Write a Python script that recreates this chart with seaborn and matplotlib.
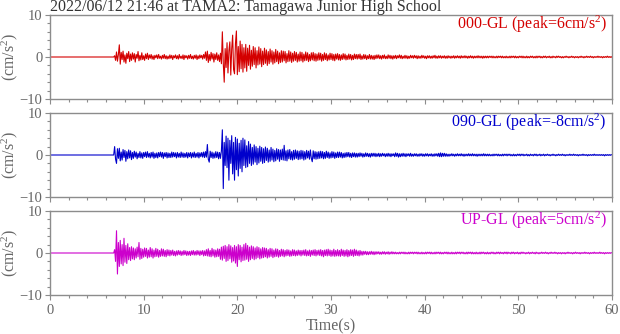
import numpy as np
import pandas as pd
import matplotlib
matplotlib.use("Agg")
import matplotlib.pyplot as plt
import seaborn as sns
from matplotlib.ticker import MultipleLocator

# ---------------- data ----------------
title = "2022/06/12 21:46 at TAMA2: Tamagawa Junior High School"
components = ["000-GL", "090-GL", "UP-GL"]
peaks = ["6", "-8", "5"]
onset = 6.8          # s, first sample of the recorded motion
dt = 0.1             # s, spacing of the values

acc_000 = [
    0.0, 0.3, -0.8, 1.2, -1.0, 0.6, 2.9, -1.7, 1.1, -0.6, 1.4, -1.2, 0.5, -1.5, 0.9, -0.4, 1.3, -1.1, 0.7, -0.8,
    1.0, -0.5, 0.8, -1.2, 0.6, -0.3, 1.3, -0.9, 0.4, -0.7, 1.0, -0.6, 0.3, -0.8, 0.7, -0.4, 0.9, -0.6, 0.5, -0.3,
    0.6, -0.5, 0.3, -0.6, 0.4, -0.2, 0.5, -0.4, 0.6, -0.3, 0.2, -0.5, 0.4, -0.3, 0.6, -0.4, 0.3, -0.5, 0.2, -0.4,
    0.5, -0.3, 0.4, -0.6, 0.3, -0.2, 0.5, -0.4, 0.3, -0.5, 0.6, -0.3, 0.2, -0.4, 0.5, -0.6, 0.4, -0.2, 0.3, -0.5,
    0.4, -0.3, 0.6, -0.4, 0.2, -0.5, 0.4, -0.3, 0.5, -0.6, 0.3, -0.4, 0.5, -0.2, 0.4, -0.5, 0.6, -0.3, 1.2, -0.8,
    1.4, -1.3, 0.6, -0.9, 1.1, -0.5, 0.8, -1.2, 0.7, -0.6, 1.0, -0.8, 0.5, -1.1, 0.9, -1.6, 6.0, -1.5, -6.0, 2.0,
    -2.5, 3.4, -3.8, 1.5, 3.6, -4.3, 2.0, 5.2, -3.0, -4.0, 3.2, 6.2, -4.2, 2.5, -3.5, 3.8, -2.8, 3.0, -3.6, 2.2,
    -2.6, 3.0, -3.4, 2.1, -2.0, 2.8, -2.9, 1.6, -2.2, 2.5, -1.8, 2.2, -2.6, 1.5, -1.9, 2.4, -1.7, 2.0, -2.3, 1.4,
    -1.8, 2.1, -1.5, 1.7, -2.0, 1.3, -1.6, 1.9, -1.2, 1.5, -1.7, 1.2, -1.4, 1.8, -1.1, 1.4, -1.6, 1.0, -1.3, 1.5,
    -1.2, 1.4, -0.9, 1.3, -1.4, 0.8, -1.1, 1.5, -1.0, 1.2, -1.3, 0.9, -1.0, 1.3, -0.8, 1.1, -1.2, 0.7, -1.0, 1.2,
    -0.9, 1.1, -1.2, 0.7, -0.9, 1.2, -0.8, 1.0, -1.1, 0.6, -0.9, 1.0, -0.7, 1.1, -0.9, 0.8, -1.0, 0.7, -0.8, 1.0,
    -0.7, 0.9, -1.0, 0.6, -0.8, 1.0, -0.6, 0.8, -0.9, 0.5, -0.7, 0.9, -0.6, 0.8, -0.8, 0.6, -0.9, 0.7, -0.5, 0.8,
    -0.7, 0.6, -0.8, 0.5, -0.6, 0.8, -0.5, 0.7, -0.7, 0.4, -0.6, 0.7, -0.5, 0.6, -0.7, 0.4, -0.6, 0.7, -0.4, 0.6,
    -0.5, 0.6, -0.4, 0.7, -0.6, 0.3, -0.5, 0.6, -0.4, 0.5, -0.6, 0.3, -0.4, 0.6, -0.5, 0.4, -0.5, 0.3, -0.6, 0.4,
    -0.4, 0.5, -0.3, 0.5, -0.4, 0.3, -0.5, 0.4, -0.3, 0.5, -0.4, 0.2, -0.4, 0.5, -0.3, 0.4, -0.4, 0.3, -0.5, 0.3,
    -0.3, 0.4, -0.4, 0.3, -0.2, 0.5, -0.3, 0.4, -0.4, 0.2, -0.3, 0.4, -0.3, 0.3, -0.4, 0.2, -0.3, 0.4, -0.2, 0.3,
    -0.3, 0.4, -0.2, 0.3, -0.4, 0.3, -0.3, 0.2, -0.3, 0.4, -0.2, 0.3, -0.3, 0.2, -0.4, 0.3, -0.2, 0.3, -0.3, 0.2,
    -0.3, 0.3, -0.2, 0.4, -0.3, 0.2, -0.3, 0.3, -0.2, 0.3, -0.3, 0.2, -0.2, 0.3, -0.3, 0.2, -0.3, 0.3, -0.2, 0.2,
    -0.3, 0.2, -0.2, 0.3, -0.3, 0.2, -0.2, 0.3, -0.2, 0.2, -0.3, 0.3, -0.2, 0.2, -0.2, 0.3, -0.2, 0.2, -0.3, 0.2,
    -0.2, 0.3, -0.2, 0.2, -0.3, 0.2, -0.2, 0.2, -0.2, 0.3, -0.2, 0.2, -0.2, 0.2, -0.3, 0.2, -0.2, 0.2, -0.2, 0.2,
    -0.2, 0.2, -0.1, 0.2, -0.2, 0.2, -0.2, 0.1, -0.2, 0.2, -0.2, 0.2, -0.1, 0.2, -0.2, 0.2, -0.2, 0.1, -0.2, 0.2,
    -0.2, 0.1, -0.2, 0.2, -0.2, 0.2, -0.1, 0.2, -0.2, 0.2, -0.2, 0.1, -0.2, 0.2, -0.1, 0.2, -0.2, 0.2, -0.2, 0.1,
    -0.2, 0.2, -0.2, 0.1, -0.2, 0.2, -0.1, 0.2, -0.2, 0.1, -0.2, 0.2, -0.2, 0.2, -0.1, 0.2, -0.2, 0.1, -0.2, 0.2,
    -0.1, 0.2, -0.2, 0.1, -0.1, 0.2, -0.2, 0.1, -0.2, 0.2, -0.1, 0.1, -0.2, 0.2, -0.1, 0.2, -0.1, 0.1, -0.2, 0.1,
    -0.2, 0.1, -0.1, 0.2, -0.1, 0.1, -0.2, 0.1, -0.1, 0.2, -0.1, 0.1, -0.2, 0.1, -0.1, 0.1, -0.2, 0.1, -0.1, 0.2,
    -0.1, 0.1, -0.2, 0.1, -0.1, 0.2, -0.1, 0.1, -0.1, 0.2, -0.1, 0.1, -0.2, 0.1, -0.1, 0.1, -0.1, 0.2, -0.1, 0.1,
    -0.1, 0.1, -0.2, 0.1, -0.1, 0.1, -0.1, 0.2, -0.1, 0.1, -0.1, 0.1, -0.1,
]

acc_090 = [
    0.0, 2.0, -1.0, -2.0, 1.5, -0.8, 1.6, -1.4, 0.7, -1.2, 1.3, -0.6, 1.1, -1.5, 0.8, -0.9, 1.2, -0.7, 1.0, -1.1,
    0.6, -0.8, 0.9, -0.5, 0.7, -0.9, 0.4, -0.6, 0.8, -0.7, 0.5, -0.8, 0.6, -0.4, 0.7, -0.6, 0.8, -0.5, 0.4, -0.7,
    0.6, -0.5, 0.7, -0.8, 0.4, -0.6, 0.5, -0.7, 0.6, -0.4, 0.7, -0.5, 0.6, -0.8, 0.5, -0.4, 0.6, -0.7, 0.5, -0.6,
    0.4, -0.6, 0.7, -0.5, 0.6, -0.4, 0.5, -0.7, 0.6, -0.5, 0.4, -0.6, 0.7, -0.5, 0.5, -0.6, 0.4, -0.5, 0.6, -0.7,
    0.5, -0.4, 0.6, -0.7, 0.5, -0.5, 0.7, -0.6, 0.4, -0.5, 0.6, -0.7, 0.5, -0.4, 0.6, -0.5, 0.7, -0.6, 0.8, -0.5,
    2.5, -1.0, -1.7, 0.9, -0.6, 0.7, -0.8, 0.5, -0.7, 0.8, -0.6, 0.7, -0.9, 0.6, -0.8, 1.0, 6.0, -8.0, 3.0, -2.5,
    4.5, -3.0, 4.0, -6.0, 3.5, -2.0, 4.6, -4.5, 3.0, -6.0, 4.2, -3.5, 3.8, -5.0, 2.8, -3.2, 3.5, -4.0, 4.0, -2.5,
    3.6, -3.0, 2.2, -2.8, 3.2, -2.0, 2.6, -2.5, 1.8, -2.2, 2.4, -1.7, 2.0, -2.3, 1.6, -1.9, 2.1, -1.5, 1.8, -2.0,
    1.5, -1.8, 1.9, -1.3, 1.6, -1.7, 1.2, -1.5, 1.8, -1.2, 1.4, -1.6, 1.1, -1.4, 1.5, -1.0, 1.3, -1.5, 1.2, -1.1,
    1.4, -1.2, 2.3, -1.3, 1.0, -1.4, 1.2, -0.9, 1.3, -1.1, 0.8, -1.2, 1.1, -1.0, 1.2, -0.8, 1.0, -1.1, 0.9, -1.0,
    1.1, -0.9, 1.0, -1.2, 0.8, -1.0, 1.1, -0.7, 0.9, -1.0, 1.2, -0.8, -1.6, 1.0, -0.9, 0.8, -1.0, 0.7, -0.9, 0.8,
    -0.8, 0.9, -0.7, 0.8, -0.9, 0.6, -0.8, 0.9, -0.6, 0.7, -0.8, 0.5, -0.7, 0.8, -0.6, 0.7, -0.8, 0.5, -0.6, 0.7,
    -0.6, 0.7, -0.5, 0.6, -0.7, 0.4, -0.6, 0.5, -0.5, 0.6, -0.4, 0.6, -0.5, 0.4, -0.6, 0.5, -0.4, 0.5, -0.5, 0.4,
    -0.5, 0.4, -0.4, 0.5, -0.3, 0.4, -0.5, 0.3, -0.4, 0.5, -0.3, 0.4, -0.4, 0.3, -0.5, 0.4, -0.3, 0.4, -0.3, 0.4,
    -0.4, 0.3, -0.3, 0.4, -0.4, 0.3, -0.3, 0.4, -0.2, 0.3, -0.4, 0.3, -0.3, 0.4, -0.3, 0.3, -0.4, 0.3, -0.2, 0.3,
    -0.4, 0.5, -0.3, 0.4, -0.5, 0.3, -0.4, 0.3, -0.3, 0.4, -0.3, 0.3, -0.4, 0.3, -0.2, 0.3, -0.3, 0.4, -0.3, 0.2,
    -0.3, 0.3, -0.2, 0.3, -0.3, 0.2, -0.3, 0.3, -0.2, 0.3, -0.3, 0.2, -0.3, 0.3, -0.2, 0.3, -0.3, 0.2, -0.2, 0.3,
    -0.3, 0.2, -0.3, 0.3, -0.2, 0.3, -0.3, 0.4, -0.4, 0.5, -0.4, 0.4, -0.3, 0.4, -0.3, 0.3, -0.3, 0.2, -0.3, 0.2,
    -0.2, 0.3, -0.2, 0.2, -0.3, 0.2, -0.2, 0.3, -0.2, 0.2, -0.2, 0.3, -0.2, 0.2, -0.3, 0.2, -0.2, 0.2, -0.2, 0.3,
    -0.2, 0.2, -0.2, 0.3, -0.2, 0.2, -0.2, 0.2, -0.3, 0.2, -0.2, 0.2, -0.2, 0.2, -0.2, 0.3, -0.2, 0.2, -0.2, 0.2,
    -0.2, 0.2, -0.2, 0.1, -0.2, 0.2, -0.2, 0.2, -0.1, 0.2, -0.2, 0.2, -0.2, 0.1, -0.2, 0.2, -0.2, 0.2, -0.1, 0.2,
    -0.2, 0.2, -0.1, 0.2, -0.2, 0.1, -0.2, 0.2, -0.2, 0.1, -0.2, 0.2, -0.1, 0.2, -0.2, 0.2, -0.1, 0.2, -0.2, 0.1,
    -0.1, 0.2, -0.2, 0.1, -0.2, 0.2, -0.1, 0.1, -0.2, 0.2, -0.1, 0.2, -0.2, 0.1, -0.1, 0.2, -0.2, 0.1, -0.1, 0.2,
    -0.2, 0.1, -0.1, 0.2, -0.1, 0.1, -0.2, 0.1, -0.1, 0.2, -0.1, 0.1, -0.2, 0.1, -0.1, 0.2, -0.1, 0.1, -0.1, 0.2,
    -0.1, 0.1, -0.2, 0.1, -0.1, 0.1, -0.1, 0.2, -0.1, 0.1, -0.1, 0.2, -0.1, 0.1, -0.1, 0.1, -0.2, 0.1, -0.1, 0.1,
    -0.1, 0.2, -0.1, 0.1, -0.1, 0.1, -0.2, 0.1, -0.1, 0.1, -0.1, 0.1, -0.1, 0.2, -0.1, 0.1, -0.1, 0.1, -0.1, 0.1,
    -0.1, 0.1, -0.1, 0.1, -0.2, 0.1, -0.1, 0.1, -0.1, 0.1, -0.1, 0.1, 0.0,
]

acc_up = [
    0.0, 0.8, -2.0, 5.3, -5.0, 2.5, -3.2, 3.0, -2.6, 2.0, -3.0, 3.5, -2.2, 1.8, -2.5, 2.2, -1.6, 1.3, -1.8, 1.5,
    -1.4, 1.2, -1.6, 1.0, -1.2, 1.4, -0.9, 2.5, -1.5, 1.1, -1.3, 0.9, -1.0, 1.2, -0.8, 1.1, -1.2, 0.7, -1.0, 1.3,
    -0.9, 1.0, -1.2, 0.7, -0.9, 1.1, -0.8, 0.9, -1.0, 0.6, -0.8, 1.0, -0.7, 0.9, -0.8, 0.6, -0.9, 0.8, -0.6, 0.7,
    -0.7, 0.6, -0.5, 0.7, -0.6, 0.4, -0.7, 0.5, -0.5, 0.6, -0.4, 0.5, -0.6, 0.4, -0.5, 0.6, -0.4, 0.5, -0.6, 0.4,
    -0.5, 0.4, -0.6, 0.5, -0.4, 0.6, -0.5, 0.4, -0.5, 0.6, -0.4, 0.5, -0.6, 0.5, -0.4, 0.6, -0.7, 0.5, -0.6, 0.8,
    -0.7, 1.0, -0.8, 0.6, -0.9, 1.1, -0.7, 0.8, -1.0, 0.7, -0.9, 1.0, -0.8, 0.9, -1.5, 1.4, -1.7, 1.6, -1.3, 1.8,
    -2.0, 1.5, -1.8, 2.0, -1.4, 1.7, -2.2, 1.3, -1.9, 1.8, -2.4, 1.5, -3.2, 2.0, -1.6, 1.8, -2.1, 1.4, -1.8, 2.0,
    -1.7, 2.3, -1.5, 1.8, -2.0, 1.4, -1.6, 1.7, -1.3, 1.5, -1.6, 1.2, -1.4, 1.5, -1.1, 1.3, -1.4, 1.0, -1.2, 1.3,
    -1.1, 1.2, -0.9, 1.1, -1.2, 0.8, -1.0, 1.1, -0.8, 1.0, -1.1, 0.7, -0.9, 1.0, -0.8, 0.9, -1.0, 0.6, -0.8, 0.9,
    -0.7, 0.8, -0.9, 0.6, -0.7, 0.8, -0.6, 0.7, -0.8, 0.5, -0.7, 0.8, -0.6, 0.7, -0.7, 0.5, -0.6, 0.7, -0.5, 0.6,
    -0.7, 0.6, -0.5, 0.7, -0.6, 0.8, -0.7, 0.5, -0.6, 0.7, -0.8, 0.6, -0.5, 0.7, -0.6, 0.8, -0.7, 0.6, -0.5, 0.7,
    -0.6, 0.8, -0.7, 0.6, -0.9, 0.7, -0.6, 0.8, -0.7, 0.9, -0.6, 0.7, -0.8, 0.6, -0.7, 0.9, -0.8, 0.6, -0.7, 0.8,
    -0.7, 0.6, -0.8, 0.9, -0.6, 0.7, -0.8, 0.6, -0.7, 0.8, -0.9, 0.6, -0.7, 0.8, -0.6, 0.7, -0.8, 0.9, -0.6, 0.7,
    -0.6, 0.5, -0.7, 0.6, -0.5, 0.4, -0.5, 0.4, -0.3, 0.4, -0.4, 0.3, -0.4, 0.3, -0.3, 0.4, -0.3, 0.3, -0.4, 0.3,
    -0.3, 0.3, -0.2, 0.3, -0.3, 0.2, -0.3, 0.3, -0.2, 0.3, -0.3, 0.2, -0.2, 0.3, -0.3, 0.2, -0.2, 0.3, -0.2, 0.2,
    -0.2, 0.2, -0.2, 0.1, -0.2, 0.2, -0.2, 0.2, -0.1, 0.2, -0.2, 0.2, -0.2, 0.1, -0.2, 0.2, -0.2, 0.2, -0.1, 0.2,
    -0.2, 0.2, -0.1, 0.2, -0.2, 0.2, -0.2, 0.1, -0.2, 0.2, -0.2, 0.1, -0.2, 0.2, -0.2, 0.2, -0.1, 0.2, -0.2, 0.2,
    -0.2, 0.1, -0.2, 0.2, -0.2, 0.2, -0.1, 0.2, -0.2, 0.2, -0.2, 0.1, -0.2, 0.2, -0.1, 0.2, -0.2, 0.2, -0.2, 0.1,
    -0.2, 0.2, -0.2, 0.1, -0.2, 0.2, -0.2, 0.2, -0.1, 0.2, -0.2, 0.2, -0.1, 0.2, -0.2, 0.1, -0.2, 0.2, -0.2, 0.2,
    -0.1, 0.2, -0.2, 0.2, -0.2, 0.1, -0.2, 0.2, -0.2, 0.1, -0.2, 0.2, -0.2, 0.2, -0.1, 0.2, -0.2, 0.1, -0.2, 0.2,
    -0.2, 0.1, -0.2, 0.2, -0.1, 0.2, -0.2, 0.1, -0.2, 0.2, -0.1, 0.2, -0.2, 0.2, -0.1, 0.1, -0.2, 0.2, -0.1, 0.2,
    -0.2, 0.2, -0.1, 0.1, -0.2, 0.2, -0.1, 0.2, -0.2, 0.1, -0.1, 0.2, -0.2, 0.1, -0.2, 0.2, -0.1, 0.2, -0.1, 0.1,
    -0.2, 0.1, -0.1, 0.2, -0.2, 0.1, -0.1, 0.2, -0.1, 0.1, -0.2, 0.2, -0.1, 0.1, -0.2, 0.1, -0.1, 0.2, -0.1, 0.1,
    -0.1, 0.2, -0.1, 0.1, -0.2, 0.1, -0.1, 0.2, -0.1, 0.1, -0.1, 0.2, -0.1, 0.1, -0.2, 0.1, -0.1, 0.1, -0.2, 0.1,
    -0.1, 0.1, -0.2, 0.1, -0.1, 0.2, -0.1, 0.1, -0.1, 0.1, -0.2, 0.1, -0.1, 0.2, -0.1, 0.1, -0.1, 0.1, -0.2, 0.1,
    -0.1, 0.1, -0.1, 0.2, -0.1, 0.1, -0.1, 0.1, -0.2, 0.1, -0.1, 0.1, -0.1, 0.2, -0.1, 0.1, -0.1, 0.1, -0.1, 0.2,
    -0.1, 0.1, -0.1, 0.1, -0.2, 0.1, -0.1, 0.1, -0.1, 0.1, -0.1, 0.1, 0.0,
]

colors = ["#d40000", "#0000cc", "#cc00cc"]

# ---------------- style ----------------
sns.set_theme(style="white")
plt.rcParams["font.family"] = ["Liberation Serif", "DejaVu Serif"]
plt.rcParams["mathtext.fontset"] = "custom"
plt.rcParams["mathtext.rm"] = "Liberation Serif"
plt.rcParams["mathtext.it"] = "Liberation Serif:italic"
plt.rcParams["mathtext.bf"] = "Liberation Serif:bold"

spine_c = "#8c8c8c"
text_c = "#666666"
fs_tick = 10.5
fs_text = 11.5

W, H = 620, 334
fig = plt.figure(figsize=(W / 100, H / 100), dpi=100)

left_px, right_px = 50, 612
panel_px = [(15, 99), (113, 197), (211, 295)]
aw = right_px - left_px

series = [acc_000, acc_090, acc_up]
for k, (acc, comp, pk, col) in enumerate(zip(series, components, peaks, colors)):
    top, bot = panel_px[k]
    ah = bot - top
    ax = fig.add_axes([left_px / W, 1 - bot / H, aw / W, ah / H])
    t = np.concatenate([[0.0], onset + dt * np.arange(len(acc))])
    v = np.concatenate([[0.0], np.asarray(acc, float)])
    df = pd.DataFrame({"time": t, "acc": v})
    sns.lineplot(data=df, x="time", y="acc", ax=ax, color=col, lw=0.8,
                 estimator=None, sort=False)
    ax.set_xlim(0, 60)
    ax.set_ylim(-10, 10)
    ax.xaxis.set_major_locator(MultipleLocator(10))
    ax.xaxis.set_minor_locator(MultipleLocator(2))
    ax.yaxis.set_major_locator(MultipleLocator(10))
    ax.yaxis.set_minor_locator(MultipleLocator(2))
    ax.tick_params(which="both", direction="out", colors=spine_c, labelcolor=text_c,
                   labelsize=fs_tick, bottom=True, left=True, top=False, right=False)
    ax.tick_params(which="major", length=3.8, width=0.8)
    ax.tick_params(which="minor", length=2.5, width=0.8)
    ax.tick_params(axis="x", pad=2.5)
    ax.tick_params(axis="y", pad=1.5)
    for s in ax.spines.values():
        s.set_color(spine_c)
        s.set_linewidth(1.0)
    ax.set_ylabel("(cm/s$^2$)", color=text_c, fontsize=fs_text)
    ax.yaxis.set_label_coords(-(left_px - 10) / aw, 0.5)
    ax.yaxis.label.set_va("center")
    if k < 2:
        ax.set_xlabel("")
        ax.set_xticklabels([])
    else:
        ax.set_xlabel("Time(s)", color=text_c, fontsize=fs_text)
        ax.xaxis.set_label_coords(0.5, -(330 - bot) / ah)
        ax.xaxis.label.set_va("baseline")
    ax.text(0.991, 1 - 14 / ah, f"{comp} (peak={pk}cm/s$^2$)",
            transform=ax.transAxes, ha="right", va="baseline", color=col, fontsize=fs_text)

fig.text(left_px / W, 1 - 11 / H, title, ha="left", va="baseline",
         color="#333333", fontsize=fs_text)

fig.savefig("out.png", dpi=100)
